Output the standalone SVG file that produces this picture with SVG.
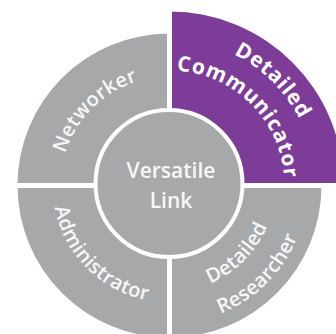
<svg xmlns="http://www.w3.org/2000/svg" width="336" height="334" viewBox="0 0 336 334">
  <style>
    .gray { fill: #a7a8aa; }
    .purple { fill: #7d3c98; }
    .lbl { font-family: "Open Sans", "Liberation Sans", sans-serif; font-size: 20px; fill: #f7f7f7; font-weight: 600; letter-spacing: 0.3px; }
    .plbl { font-family: "Open Sans", "Liberation Sans", sans-serif; font-size: 21px; fill: #ffffff; font-weight: 700; letter-spacing: 0.8px; }
    .clbl { font-family: "Open Sans", "Liberation Sans", sans-serif; font-size: 21px; fill: #f7f7f7; font-weight: 600; }
    .sep { stroke: #ffffff; stroke-width: 5; }
  </style>
  <defs>
    <path id="pNet" d="M 70.71 231.56 A 109 109 0 0 1 215.56 86.71" fill="none"/>
    <path id="pAdm" d="M 63.46 136.06 A 117 117 0 0 0 218.94 291.54" fill="none"/>
    <path id="pDet1" d="M 107.37 52.28 A 147 147 0 0 1 302.72 245.93" fill="none"/>
    <path id="pCom" d="M 120.90 81.28 A 115 115 0 0 1 273.72 234.10" fill="none"/>
    <path id="pDet2" d="M 124.70 281.57 A 106 106 0 0 0 265.57 140.70" fill="none"/>
    <path id="pRes" d="M 111.18 310.56 A 138 138 0 0 0 294.56 127.18" fill="none"/>
  </defs>
  <rect width="336" height="334" fill="#ffffff"/>
  <g id="networker">
    <path class="gray" d="M 169.5 185.5 L 17.5 185.5 A 152 152 0 0 1 169.5 33.5 Z"/>
    <text class="lbl"><textPath href="#pNet" startOffset="50%" text-anchor="middle">Networker</textPath></text>
  </g>
  <g id="administrator">
    <path class="gray" d="M 169.5 185.5 L 17.5 185.5 A 152 152 0 0 0 169.5 337.5 Z"/>
    <text class="lbl"><textPath href="#pAdm" startOffset="50%" text-anchor="middle">Administrator</textPath></text>
  </g>
  <g id="detailed-researcher">
    <path class="gray" d="M 169.5 185.5 L 321.5 185.5 A 152 152 0 0 1 169.5 337.5 Z"/>
    <text class="lbl"><textPath href="#pDet2" startOffset="50%" text-anchor="middle">Detailed</textPath></text>
    <text class="lbl"><textPath href="#pRes" startOffset="50%" text-anchor="middle">Researcher</textPath></text>
  </g>
  <g id="detailed-communicator">
    <path class="purple" d="M 169.5 185.5 L 169.5 11.5 A 174 174 0 0 1 343.5 185.5 Z"/>
    <text class="plbl"><textPath href="#pDet1" startOffset="50%" text-anchor="middle">Detailed</textPath></text>
    <text class="plbl"><textPath href="#pCom" startOffset="50%" text-anchor="middle">Communicator</textPath></text>
  </g>
  <g id="separators">
    <line class="sep" x1="169.5" y1="0" x2="169.5" y2="334"/>
    <line class="sep" x1="0" y1="185.5" x2="336" y2="185.5"/>
  </g>
  <g id="versatile-link">
    <circle cx="169" cy="183.5" r="73.5" fill="#a7a8aa" stroke="#ffffff" stroke-width="4"/>
    <text class="clbl" x="171" y="178" text-anchor="middle">Versatile</text>
    <text class="clbl" x="171" y="208" text-anchor="middle">Link</text>
  </g>
</svg>
